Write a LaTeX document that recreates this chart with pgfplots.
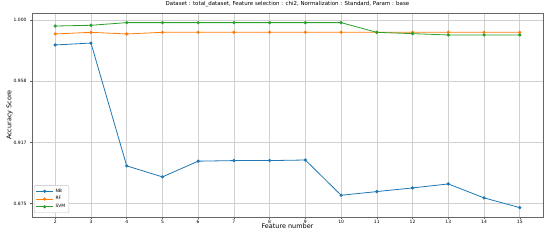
\documentclass[border=0pt]{standalone}
\usepackage{pgfplots}
\pgfplotsset{compat=1.18}
\usepackage{fontspec}
\setmainfont{DejaVu Sans}
\definecolor{tabblue}{HTML}{1F77B4}
\definecolor{taborange}{HTML}{FF7F0E}
\definecolor{tabgreen}{HTML}{2CA02C}
\begin{document}
\begin{tikzpicture}[x=1bp,y=1bp]
\useasboundingbox (0,0) rectangle (550,243);
\begin{axis}[
  at={(32bp,26bp)}, anchor=south west,
  scale only axis, width=511bp, height=204bp,
  xmin=1.35, xmax=15.65, ymin=0.8659, ymax=1.00476,
  xtick={2,3,...,15},
  ytick={0.875,0.9166667,0.9583333,1.0},
  yticklabels={0.875,0.917,0.958,1.000},
  /pgf/number format/assume math mode=true,
  tick label style={font=\fontsize{4.5}{5}\selectfont},
  xticklabel style={yshift=2.5bp},
  grid=major, grid style={black!18, line width=0.6bp},
  axis line style={black!60, line width=0.6bp},
  tick align=outside, major tick length=2bp,
  tick style={black!60, line width=0.5bp},
  xtick pos=bottom, ytick pos=left,
  title={Dataset : total\_dataset, Feature selection : chi2, Normalization : Standard, Param : base},
  title style={font=\fontsize{5.5}{6}\selectfont, yshift=-3bp},
  xlabel={Feature number}, ylabel={Accuracy Score},
  xlabel style={font=\fontsize{6.5}{7}\selectfont, yshift=6.5bp},
  ylabel style={font=\fontsize{6.5}{7}\selectfont, yshift=-6bp},
  legend style={at={(0.004,0.02)}, anchor=south west, font=\fontsize{4.5}{5}\selectfont, draw=black!25, rounded corners=1bp, row sep=-1bp, inner sep=1.5bp},
  legend cell align=left,
  every axis plot/.append style={line width=0.8bp, mark=*, mark size=1.2bp},
]
\addplot[color=tabblue] coordinates {(2,0.9830)(3,0.9843)(4,0.9007)(5,0.8932)(6,0.9039)(7,0.9043)(8,0.9043)(9,0.9047)(10,0.8807)(11,0.8832)(12,0.8857)(13,0.8884)(14,0.8789)(15,0.8723)};
\addlegendentry{NB}
\addplot[color=taborange] coordinates {(2,0.9905)(3,0.9916)(4,0.9905)(5,0.9916)(6,0.9916)(7,0.9916)(8,0.9916)(9,0.9916)(10,0.9916)(11,0.9916)(12,0.9916)(13,0.9916)(14,0.9916)(15,0.9916)};
\addlegendentry{RF}
\addplot[color=tabgreen] coordinates {(2,0.9959)(3,0.9964)(4,0.9982)(5,0.9982)(6,0.9982)(7,0.9982)(8,0.9982)(9,0.9982)(10,0.9982)(11,0.9916)(12,0.9907)(13,0.9898)(14,0.9898)(15,0.9898)};
\addlegendentry{SVM}
\end{axis}
\end{tikzpicture}
\end{document}
